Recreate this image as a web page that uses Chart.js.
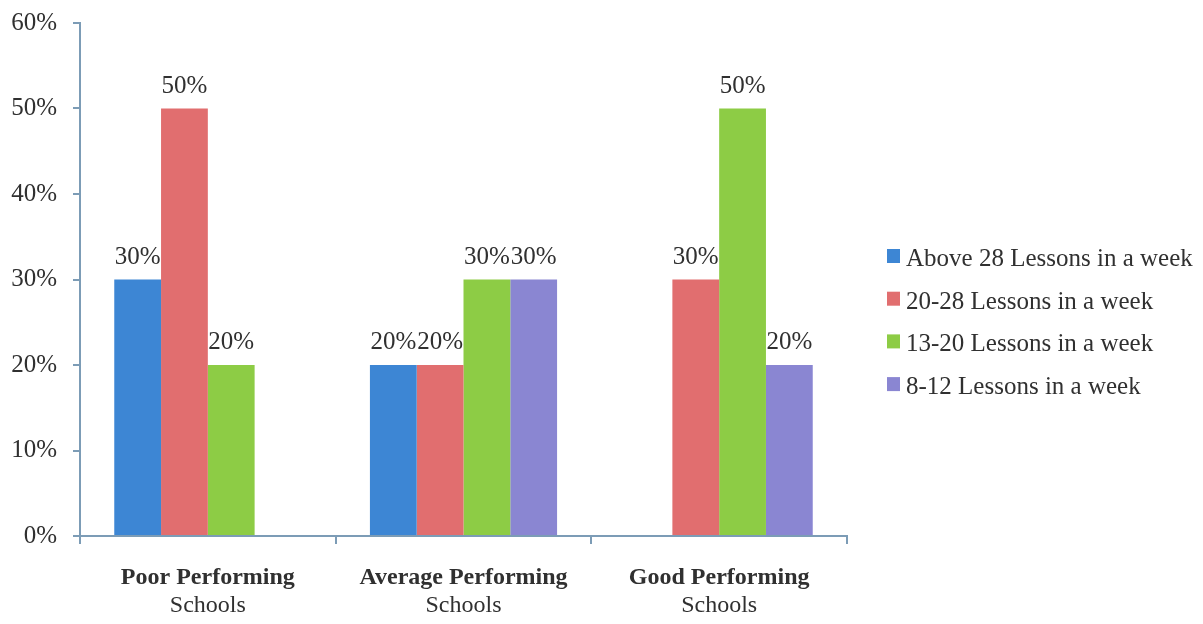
<!DOCTYPE html>
<html>
<head>
<meta charset="utf-8">
<script src="https://cdn.jsdelivr.net/npm/chart.js@4.4.1/dist/chart.umd.min.js"></script>
<style>
html,body{margin:0;padding:0;background:#fff;}
#wrap{width:1203px;height:624px;position:relative;}
</style>
</head>
<body>
<div id="wrap"><canvas id="c" width="1203" height="624"></canvas></div>
<script>
const categoriesLine1 = ["Poor Performing", "Average Performing", "Good Performing"];
const categoriesLine2 = ["Schools", "Schools", "Schools"];
const seriesNames = ["Above 28 Lessons in a week", "20-28 Lessons in a week", "13-20 Lessons in a week", "8-12 Lessons in a week"];
const above28 = [30, 20, null];
const l20to28 = [50, 20, 30];
const l13to20 = [20, 30, 50];
const l8to12 = [null, 30, 20];
const yTicks = [0, 10, 20, 30, 40, 50, 60];
const colors = ["#3d86d4", "#e16e6f", "#8dcc45", "#8a86d2"];

const SERIF = '"Liberation Serif", "Times New Roman", serif';
const TEXT = '#303030';
const AXIS = '#7c9cb6';

const labelsPlugin = {
  id: 'customText',
  afterDatasetsDraw(chart) {
    const ctx = chart.ctx;
    ctx.save();
    ctx.font = '25px ' + SERIF;
    ctx.fillStyle = TEXT;
    ctx.textAlign = 'center';
    ctx.textBaseline = 'alphabetic';
    chart.data.datasets.forEach((ds, i) => {
      const meta = chart.getDatasetMeta(i);
      meta.data.forEach((bar, j) => {
        const v = ds.data[j];
        if (v === null || v === undefined) return;
        ctx.fillText(v + '%', bar.x, bar.y - 16);
      });
    });
    const xs = chart.scales.x;
    categoriesLine1.forEach((c, i) => {
      const x = xs.getPixelForValue(i);
      ctx.font = 'bold 24px ' + SERIF;
      ctx.fillText(c, x, 584);
      ctx.font = '24px ' + SERIF;
      ctx.fillText(categoriesLine2[i], x, 612);
    });
    ctx.textAlign = 'left';
    ctx.font = '25px ' + SERIF;
    chart.data.datasets.forEach((ds, i) => {
      const base = 266 + i * 42.7;
      ctx.fillStyle = ds.backgroundColor;
      ctx.fillRect(887, base - 17, 13, 14);
      ctx.fillStyle = TEXT;
      ctx.fillText(ds.label, 906, base);
    });
    ctx.restore();
  }
};

new Chart(document.getElementById('c'), {
  type: 'bar',
  data: {
    labels: categoriesLine1,
    datasets: [
      { label: seriesNames[0], data: above28, backgroundColor: colors[0] },
      { label: seriesNames[1], data: l20to28, backgroundColor: colors[1] },
      { label: seriesNames[2], data: l13to20, backgroundColor: colors[2] },
      { label: seriesNames[3], data: l8to12, backgroundColor: colors[3] }
    ]
  },
  options: {
    responsive: false,
    animation: false,
    devicePixelRatio: 1,
    layout: { padding: { left: 0, top: 23, right: 356, bottom: 0 } },
    datasets: { bar: { categoryPercentage: 0.732, barPercentage: 1.0, borderWidth: 0 } },
    plugins: { legend: { display: false }, tooltip: { enabled: false } },
    scales: {
      x: {
        ticks: { display: false },
        grid: { display: true, drawOnChartArea: false, drawTicks: true, tickLength: 8, color: AXIS, lineWidth: 2, offset: true },
        border: { display: true, color: AXIS, width: 2 },
        afterFit(s) { s.height = 88; s.paddingLeft = 0; s.paddingRight = 0; }
      },
      y: {
        min: 0, max: 60,
        afterBuildTicks(s) { s.ticks = yTicks.map(v => ({ value: v })); },
        ticks: { callback: v => v + '%', font: { family: SERIF, size: 25 }, color: TEXT, padding: 16 },
        grid: { display: true, drawOnChartArea: false, drawTicks: true, tickLength: 7, color: AXIS, lineWidth: 2 },
        border: { display: true, color: AXIS, width: 2 },
        afterFit(s) { s.width = 80; s.paddingTop = 0; s.paddingBottom = 0; }
      }
    }
  },
  plugins: [labelsPlugin]
});
</script>
</body>
</html>
